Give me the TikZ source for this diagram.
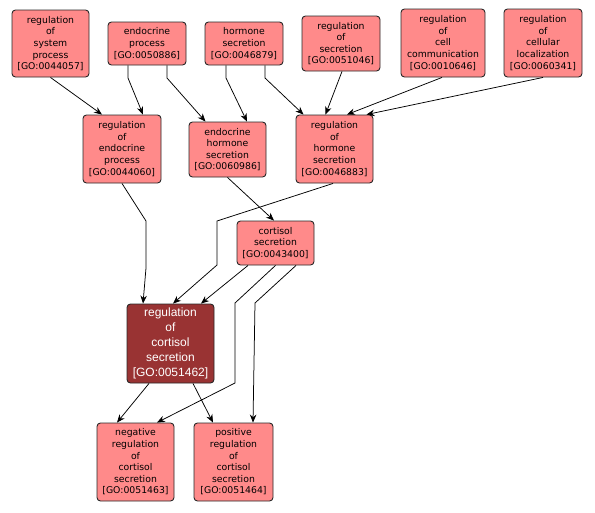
\documentclass[tikz,border=0pt]{standalone}
\usepackage{fontspec}
\setmainfont{DejaVu Sans}
\newfontfamily\darkfont{Liberation Sans}
\usetikzlibrary{arrows.meta}
\definecolor{lightgo}{RGB}{255,138,138}
\definecolor{darkgo}{RGB}{153,51,51}
\definecolor{bordergo}{RGB}{40,40,40}
\tikzset{
  goterm/.style={draw=bordergo, line width=0.9pt, rounded corners=3.5pt, fill=lightgo,
    align=center, inner sep=0pt, font=\fontsize{9.3}{11.6}\selectfont},
  goterm dark/.style={goterm, fill=darkgo, text=white, font=\darkfont\fontsize{12}{15}\selectfont},
  golink/.style={draw=black, line width=0.75pt, -{Stealth[length=8pt,width=6.5pt]}}
}
\begin{document}
\begin{tikzpicture}[x=1pt,y=-1pt]
\useasboundingbox (0,0) rectangle (595,512);
\fill[white] (0,0) rectangle (595,512);
% top row
\node[goterm, minimum width=77pt, minimum height=67pt] (n1) at (50.5,43.5) {regulation\\of\\system\\process\\{[GO:0044057]}};
\node[goterm, minimum width=78pt, minimum height=43pt] (n2) at (147,43.5) {endocrine\\process\\{[GO:0050886]}};
\node[goterm, minimum width=78pt, minimum height=43pt] (n3) at (244,43.5) {hormone\\secretion\\{[GO:0046879]}};
\node[goterm, minimum width=78pt, minimum height=55pt] (n4) at (341,43.5) {regulation\\of\\secretion\\{[GO:0051046]}};
\node[goterm, minimum width=84pt, minimum height=68pt] (n5) at (443,43) {regulation\\of\\cell\\communication\\{[GO:0010646]}};
\node[goterm, minimum width=78pt, minimum height=68pt] (n6) at (543,43) {regulation\\of\\cellular\\localization\\{[GO:0060341]}};
% middle
\node[goterm, minimum width=78pt, minimum height=68pt] (n7) at (122,149) {regulation\\of\\endocrine\\process\\{[GO:0044060]}};
\node[goterm, minimum width=77pt, minimum height=55pt] (n8) at (227.5,149.5) {endocrine\\hormone\\secretion\\{[GO:0060986]}};
\node[goterm, minimum width=77pt, minimum height=68pt] (n9) at (334.5,149) {regulation\\of\\hormone\\secretion\\{[GO:0046883]}};
\node[goterm, minimum width=77pt, minimum height=44pt] (n10) at (275.5,243) {cortisol\\secretion\\{[GO:0043400]}};
% bottom
\node[goterm dark, minimum width=87pt, minimum height=79pt] (n11) at (170.5,343.5) {regulation\\of\\cortisol\\secretion\\{[GO:0051462]}};
\node[goterm, minimum width=77pt, minimum height=78pt] (n12) at (135.5,462) {negative\\regulation\\of\\cortisol\\secretion\\{[GO:0051463]}};
\node[goterm, minimum width=79pt, minimum height=78pt] (n13) at (233.5,462) {positive\\regulation\\of\\cortisol\\secretion\\{[GO:0051464]}};
% edges
\draw[golink] (n1.south) -- ([xshift=-20pt]n7.north);
\draw[golink] ([xshift=-19pt]n2.south) -- (128,78) -- ([xshift=21pt]n7.north);
\draw[golink] ([xshift=20pt]n2.south) -- (167,78) -- ([xshift=-22pt]n8.north);
\draw[golink] ([xshift=-18pt]n3.south) -- (226,78) -- ([xshift=19.5pt]n8.north);
\draw[golink] ([xshift=21pt]n3.south) -- (265,78) -- ([xshift=-31pt]n9.north);
\draw[golink] ([xshift=1pt]n4.south) -- ([xshift=-9pt]n9.north);
\draw[golink] ([xshift=-1pt]n5.south) -- ([xshift=12.5pt]n9.north);
\draw[golink] (n6.south) -- ([xshift=32pt]n9.north);
\draw[golink] (n7.south) -- (146,221) -- (146,268) -- ([xshift=-27.5pt]n11.north);
\draw[golink] (n8.south) -- ([xshift=-1.5pt]n10.north);
\draw[golink] ([xshift=-1.5pt]n9.south) -- (217,221) -- (217,265) -- ([xshift=2.5pt]n11.north);
\draw[golink] ([xshift=-27.5pt]n10.south) -- ([xshift=30.5pt]n11.north);
\draw[golink] (n10.south) -- (235,303) -- (235,383) -- ([xshift=21.5pt]n12.north);
\draw[golink] ([xshift=20.5pt]n10.south) -- (255,303) -- ([xshift=19.5pt]n13.north);
\draw[golink] ([xshift=-21.5pt]n11.south) -- ([xshift=-18.5pt]n12.north);
\draw[golink] ([xshift=22.5pt]n11.south) -- ([xshift=-20.5pt]n13.north);
\end{tikzpicture}
\end{document}
